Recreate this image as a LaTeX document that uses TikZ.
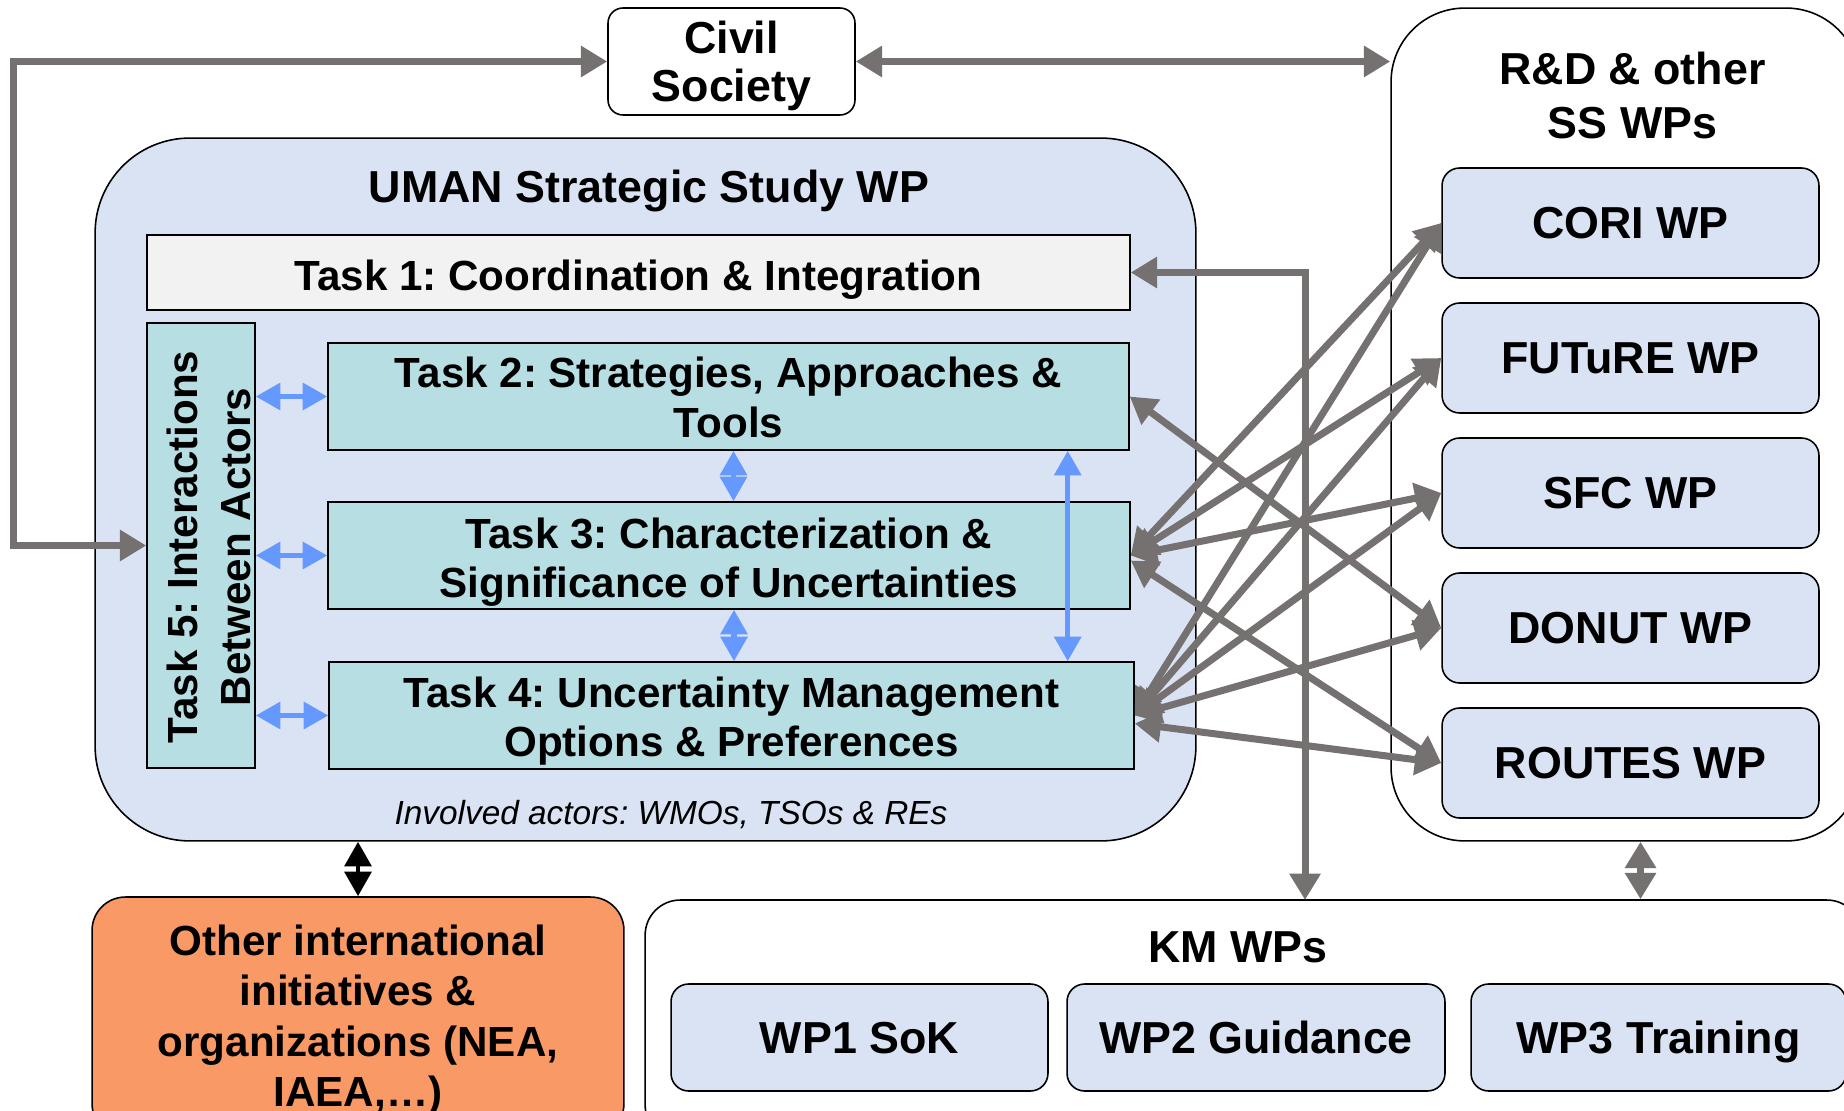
\documentclass[tikz,border=0pt]{standalone}
\usepackage{fontspec}
\setmainfont{Liberation Sans}
\usetikzlibrary{arrows.meta}
\frenchspacing

\definecolor{umanfill}{RGB}{218,227,243}
\definecolor{taskfill}{RGB}{183,222,226}
\definecolor{onefill}{RGB}{242,242,242}
\definecolor{othfill}{RGB}{248,153,102}
\definecolor{arrgray}{RGB}{118,113,113}
\definecolor{arrblue}{RGB}{102,153,255}

% invisible strut, pushes a line of text down in its box
\newcommand{\tstrut}[1]{\rule{0pt}{#1}}

\tikzset{
  txt/.style={font=\fontsize{24}{28.3}\selectfont\bfseries, align=center, inner sep=0pt},
  headtxt/.style={txt, font=\fontsize{25.5}{31.2}\selectfont\bfseries},
  bx/.style={txt, draw, line width=0.9pt},
  taskbox/.style={bx, fill=taskfill},
  wpbox/.style={bx, headtxt, fill=umanfill, rounded corners=10pt, text depth=0pt},
  grayarr/.style={draw=arrgray, line width=4pt, {Triangle[length=15pt,width=17pt]}-{Triangle[length=15pt,width=17pt]}},
  bluearr/.style={draw=arrblue, line width=3pt, {Triangle[length=14pt,width=15pt]}-{Triangle[length=14pt,width=15pt]}},
  blackarr/.style={draw=black, line width=2.8pt, {Triangle[length=14pt,width=15pt]}-{Triangle[length=14pt,width=15pt]}}
}

\begin{document}
\begin{tikzpicture}[x=0.02cm, y=-0.02cm]
  \useasboundingbox (0,0) rectangle (1844,1111);
  \clip (0,0) rectangle (1844,1111);

  % big frames
  \node[bx, fill=umanfill, rounded corners=54pt, minimum width=22.02cm, minimum height=14.06cm] (uman) at (645.5,489.5) {};
  \node[bx, fill=white, rounded corners=42pt, minimum width=9.38cm, minimum height=16.66cm] (rd) at (1625.5,424.5) {};
  \node[bx, fill=white, rounded corners=20pt, minimum width=24.34cm, minimum height=4.8cm] (km) at (1253.5,1020) {};
  \node[bx, fill=othfill, rounded corners=19pt, minimum width=10.64cm, minimum height=4.8cm,
        font=\fontsize{24}{28.7}\selectfont\bfseries] (other) at (358,1017)
        {\tstrut{21pt}Other international\\initiatives \&\\organizations (NEA,\\IAEA,…)};
  \node[bx, fill=white, rounded corners=8.5pt, minimum width=4.94cm, minimum height=2.14cm,
        font=\fontsize{25.5}{27.4}\selectfont\bfseries] (civil) at (731.5,61.5) {\tstrut{23.5pt}Civil\\Society};

  % titles
  \node[headtxt, anchor=base] (umantitle) at (649,203) {UMAN Strategic Study WP};
  \node[headtxt] (rdtitle) at (1632.5,95.5) {R\&D \& other\\SS WPs};
  \node[headtxt, anchor=base] (kmtitle) at (1238,962) {KM WPs};
  \node[inner sep=0pt, font=\fontsize{19}{22}\selectfont\itshape] (actors) at (671,815) {Involved actors: WMOs, TSOs \& REs};

  % tasks
  \node[bx, fill=onefill, minimum width=19.66cm, minimum height=1.5cm] (task1) at (638.5,272.5) {\tstrut{26pt}Task 1: Coordination \& Integration};
  \node[taskbox, minimum width=2.16cm, minimum height=8.9cm] (task5) at (201,545.5) {};
  \node[txt, rotate=90, font=\fontsize{24}{29.9}\selectfont\bfseries] (task5txt) at (209,547) {Task 5: Interactions\\Between Actors};
  \node[taskbox, minimum width=16.02cm, minimum height=2.14cm] (task2) at (728.5,396.5) {\tstrut{18.6pt}Task 2: Strategies, Approaches \&\\Tools};
  \node[taskbox, minimum width=16.04cm, minimum height=2.14cm] (task3) at (729,555.5) {\tstrut{24.9pt}Task 3: Characterization \&\\Significance of Uncertainties};
  \node[taskbox, minimum width=16.1cm, minimum height=2.14cm] (task4) at (731.5,715.5) {\tstrut{23.9pt}Task 4: Uncertainty Management\\Options \& Preferences};

  % other WPs
  \node[wpbox, minimum width=7.54cm, minimum height=2.2cm] (cori) at (1630.5,223) {CORI WP};
  \node[wpbox, minimum width=7.54cm, minimum height=2.2cm] (future) at (1630.5,358) {FUTuRE WP};
  \node[wpbox, minimum width=7.54cm, minimum height=2.2cm] (sfc) at (1630.5,493) {SFC WP};
  \node[wpbox, minimum width=7.54cm, minimum height=2.2cm] (donut) at (1630.5,628) {DONUT WP};
  \node[wpbox, minimum width=7.54cm, minimum height=2.2cm] (routes) at (1630.5,763) {ROUTES WP};
  \node[wpbox, minimum width=7.54cm, minimum height=2.14cm] (wp1) at (859.5,1037.5) {WP1 SoK};
  \node[wpbox, minimum width=7.56cm, minimum height=2.14cm] (wp2) at (1256,1037.5) {WP2 Guidance};
  \node[wpbox, minimum width=7.5cm, minimum height=2.14cm] (wp3) at (1658.5,1037.5) {WP3 Training};

  % blue links inside the study
  \draw[bluearr] (task5.east |- task2.west) -- (task2.west);
  \draw[bluearr] (task5.east |- task3.west) -- (task3.west);
  \draw[bluearr] (task5.east |- task4.west) -- (task4.west);
  \draw[bluearr] ([shift={(5,0)}]task2.south) -- ([shift={(5,0)}]task2.south |- task3.north);
  \draw[bluearr] ([shift={(5,0)}]task3.south) -- ([shift={(5,0)}]task3.south |- task4.north);
  \draw[bluearr] ([shift={(-62,0)}]task2.south east) -- ([shift={(-62,0)}]task2.south east |- task4.north);

  % gray links
  \coordinate (kmin) at (1305,900);
  \draw[grayarr] (civil.west) -| ([shift={(-133,0)}]task5.west) -- (task5.west);
  \draw[grayarr] (civil.east) -- (civil.east -| rd.west);
  \draw[grayarr] (task1.east) -| (kmin);
  \draw[grayarr] ([shift={(15,0)}]rd.south) -- ([shift={(15,0)}]rd.south |- km.north);
  \draw[blackarr] (other.north |- uman.south) -- (other.north);

  \draw[grayarr] (task2.east) -- (donut.west);
  \draw[grayarr] (task3.east) -- (cori.west);
  \draw[grayarr] (task3.east) -- (future.west);
  \draw[grayarr] (task3.east) -- (sfc.west);
  \draw[grayarr] ([shift={(0,5)}]task3.east) -- (routes.west);
  \draw[grayarr] (task4.east) -- (cori.west);
  \draw[grayarr] (task4.east) -- (future.west);
  \draw[grayarr] (task4.east) -- (sfc.west);
  \draw[grayarr] (task4.east) -- (donut.west);
  \draw[grayarr] ([shift={(0,8)}]task4.east) -- (routes.west);
\end{tikzpicture}
\end{document}
